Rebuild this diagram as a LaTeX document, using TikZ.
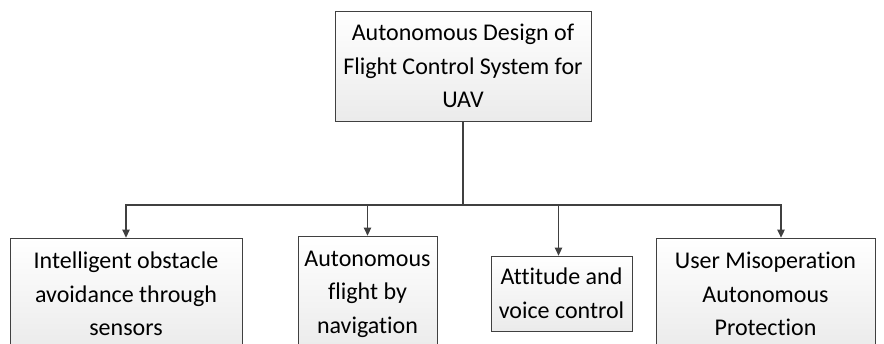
\documentclass[tikz,border=0pt]{standalone}
\usepackage{fontspec}
\setmainfont{Carlito}[Ligatures=NoCommon]
\usetikzlibrary{arrows.meta}
\tikzset{
  box/.style={draw=black!75, line width=0.8pt, top color=white, bottom color=black!8,
    align=center, inner sep=1pt, font=\fontsize{24}{33.5}\selectfont},
  wire/.style={draw=black!75, line width=1.3pt},
  link/.style={wire, -{Triangle[length=8pt,width=7.5pt]}}
}
\begin{document}
\begin{tikzpicture}[x=1pt, y=-1pt]
  \clip (0,0) rectangle (884,344);
  \node[box, minimum width=256pt, minimum height=110pt] (top) at (463,66)
    {Autonomous Design of\\Flight Control System for\\UAV};
  \node[box, minimum width=232pt, minimum height=112pt] (sensor) at (126,294)
    {Intelligent obstacle\\avoidance through\\sensors};
  \node[box, minimum width=139pt, minimum height=116pt] (nav) at (367.5,294)
    {Autonomous\\flight by\\navigation};
  \node[box, minimum width=141pt, minimum height=75pt] (voice) at (561.5,293.5)
    {Attitude and\\voice control};
  \node[box, minimum width=219pt, minimum height=112pt] (protect) at (765.5,294)
    {User Misoperation\\Autonomous\\Protection};
  \coordinate (bus) at (463,205);
  \draw[wire] (top.south) -- (bus);
  \draw[link] (bus) -| (sensor.north);
  \draw[link] (bus) -| (nav.north);
  \draw[link] (bus) -| ([xshift=-3pt]voice.north);
  \draw[link] (bus) -| ([xshift=15.5pt]protect.north);
\end{tikzpicture}
\end{document}
